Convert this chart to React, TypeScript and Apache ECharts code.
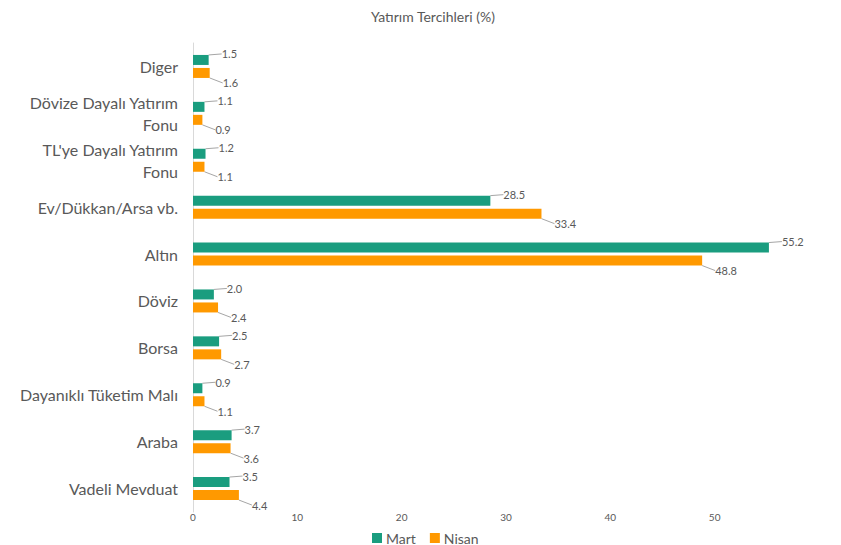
import React, { useEffect, useRef } from "react";
import * as echarts from "echarts";

const categories = [
  "Diger",
  "Dövize Dayalı Yatırım Fonu",
  "TL'ye Dayalı Yatırım Fonu",
  "Ev/Dükkan/Arsa vb.",
  "Altın",
  "Döviz",
  "Borsa",
  "Dayanıklı Tüketim Malı",
  "Araba",
  "Vadeli Mevduat",
];
const mart = [1.5, 1.1, 1.2, 28.5, 55.2, 2.0, 2.5, 0.9, 3.7, 3.5];
const nisan = [1.6, 0.9, 1.1, 33.4, 48.8, 2.4, 2.7, 1.1, 3.6, 4.4];
const xTicks = [0, 10, 20, 30, 40, 50];

const FONT = "Lato, 'Open Sans', sans-serif";
const GREY = "#595959";

export default function App() {
  const ref = useRef<HTMLDivElement>(null);
  useEffect(() => {
    if (!ref.current) return;
    const chart = echarts.init(ref.current, null, { renderer: "svg" });
    const labelCommon = {
      show: true,
      position: "right" as const,
      fontFamily: FONT,
      fontSize: 11,
      color: GREY,
      formatter: (p: any) => Number(p.value).toFixed(1),
    };
    chart.setOption({
      animation: false,
      textStyle: { fontFamily: FONT },
      title: {
        text: "Yatırım Tercihleri (%)",
        left: 428,
        textAlign: "center",
        top: 4,
        textStyle: { fontFamily: FONT, fontSize: 14, fontWeight: "normal", color: GREY },
      },
      legend: {
        data: ["Mart", "Nisan"],
        bottom: 0,
        left: 372,
        padding: 0,
        icon: "rect",
        itemWidth: 10,
        itemHeight: 10,
        itemGap: 14,
        textStyle: { fontFamily: FONT, fontSize: 14, color: GREY, padding: [0, 0, 0, -1] },
      },
      grid: { left: 193, right: 22, top: 43, bottom: 33 },
      xAxis: {
        type: "value",
        min: 0,
        max: 60,
        interval: 10,
        splitLine: { show: false },
        axisLine: { show: false },
        axisTick: { show: false },
        axisLabel: {
          fontFamily: FONT,
          fontSize: 10,
          color: GREY,
          margin: 0,
          formatter: (v: number) => (xTicks.includes(v) ? String(v) : ""),
        },
      },
      yAxis: {
        type: "category",
        data: categories,
        inverse: true,
        axisLine: { show: true, lineStyle: { color: "#d9d9d9" } },
        axisTick: { show: false },
        axisLabel: {
          fontFamily: FONT,
          fontSize: 16,
          color: GREY,
          margin: 15,
          lineHeight: 22,
          align: "right",
          formatter: (v: string) => v.replace(" Yatırım Fonu", " Yatırım\nFonu"),
        },
      },
      series: [
        {
          name: "Mart",
          type: "bar",
          data: mart,
          barWidth: 10,
          barGap: "30%",
          itemStyle: { color: "#1a9d7f" },
          label: labelCommon,
          labelLayout: { dx: 8, dy: -6 },
          labelLine: { show: true, lineStyle: { color: "#a6a6a6", width: 1 } },
        },
        {
          name: "Nisan",
          type: "bar",
          data: nisan,
          barWidth: 10,
          itemStyle: { color: "#ff9900" },
          label: labelCommon,
          labelLayout: { dx: 8, dy: 10 },
          labelLine: { show: true, lineStyle: { color: "#a6a6a6", width: 1 } },
        },
      ],
    });
    return () => chart.dispose();
  }, []);
  return (
    <div
      ref={ref}
      style={{ position: "absolute", left: 0, top: 0, width: 841, height: 545 }}
    />
  );
}
